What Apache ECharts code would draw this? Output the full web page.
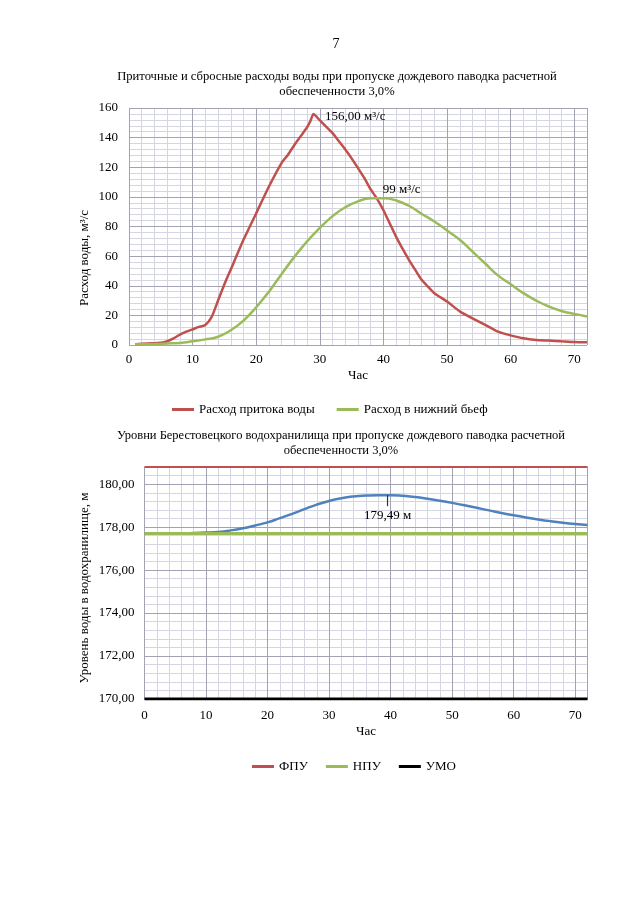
<!DOCTYPE html>
<html>
<head>
<meta charset="utf-8">
<script src="https://cdn.jsdelivr.net/npm/echarts@6/dist/echarts.min.js"></script>
<style>
html,body{margin:0;padding:0;background:#fff;}
#c{width:640px;height:905px;}
</style>
</head>
<body>
<div id="c"></div>
<script>
// ---- Data ----
const inflowHours = [1,3,5,6,7,8,9,10,11,12,13,14,15,16,18,20,22,24,25,26,27,28,28.5,29,30,32,33,34,35,36,37,38,39,40,41,42,43,44,45,46,47,48,50,52,54,56,58,60,62,64,66,68,70,72];
const inflowValues = [0.5,1,1.5,2.5,4.5,7,9,10.6,12.2,13.5,19,30,41,51,71,89,107,123,128.5,135,141,147,151,156,151.6,143,137.5,132,126,119.4,112.7,105,98.7,91,82,73,65,57.5,50.7,44,39.4,35,29.3,22.7,18,13.6,9,6.5,4.5,3.4,3,2.5,2,1.8];
const outflowHours = [1,4,6,8,10,12,14,16,18,20,22,24,26,28,30,32,34,36,38,40,42,44,46,48,50,52,54,56,58,60,62,64,66,68,70,72];
const outflowValues = [0.5,0.7,1,1.4,2.5,3.8,5.6,10,16.5,25.5,36,48,59.5,70,79,87,93,97,99,99,97.6,94,88.6,83.4,77.3,71,63,55,47,41,35,30,26,23,21,19.3];
const levelHours = [0,5,10,12,14,16,18,20,22,24,26,28,30,32,34,36,38,40,42,44,46,48,50,52,54,56,58,60,62,64,66,68,70,72];
const levelValues = [177.7,177.7,177.75,177.78,177.85,177.95,178.08,178.22,178.42,178.62,178.84,179.05,179.22,179.35,179.43,179.47,179.49,179.49,179.46,179.4,179.32,179.23,179.13,179.02,178.9,178.78,178.66,178.55,178.45,178.36,178.28,178.21,178.15,178.1];
const FPU = 180.8, NPU = 177.7, UMO = 170.0;
const levelSpan = [0, 72];
const seriesNamesTop = ['Расход притока воды', 'Расход в нижний бьеф'];
const seriesNamesBottom = ['ФПУ', 'НПУ', 'УМО'];

const zip = (xs, ys) => xs.map((x, i) => [x, ys[i]]);
const flat = v => levelSpan.map(x => [x, v]);

const FONT = 'Liberation Serif';
const MAJOR = '#a3a3b3';
const MINOR = '#d6d6e2';
const txt = {fontFamily: FONT, fontSize: 13, color: '#000'};

function xMajor(grid, gap, margin) {
  return {gridIndex: grid, type: 'value', min: 0, max: 72, interval: 10, z: 2,
    axisLine: {show: false}, axisTick: {show: false},
    axisLabel: Object.assign({margin: margin, showMaxLabel: false}, txt),
    splitLine: {show: true, lineStyle: {color: MAJOR, width: 1}},
    name: 'Час', nameLocation: 'middle', nameGap: gap, nameTextStyle: txt};
}
function xMinor(grid) {
  return {gridIndex: grid, type: 'value', min: 0, max: 72, interval: 2, z: 1, position: 'bottom',
    axisLine: {show: false}, axisTick: {show: false}, axisLabel: {show: false},
    splitLine: {show: true, lineStyle: {color: MINOR, width: 1}}};
}
function vText(text, x, y) {
  return {type: 'text', x: x, y: y, rotation: Math.PI / 2, z: 10,
    style: {text: text, fill: '#000', font: '13px "Liberation Serif"',
      align: 'center', verticalAlign: 'middle', textAlign: 'center', textVerticalAlign: 'middle'}};
}

const chart = echarts.init(document.getElementById('c'), null, {renderer: 'canvas'});
chart.setOption({
  backgroundColor: '#fff',
  animation: false,
  title: [
    {text: '7', left: 331, top: 32, textAlign: 'center', textStyle: {fontFamily: FONT, fontSize: 14, fontWeight: 'normal', color: '#000'}},
    {text: 'Приточные и сбросные расходы воды при пропуске дождевого паводка расчетной\nобеспеченности 3,0%',
      left: 332, top: 64, textAlign: 'center', textStyle: {fontFamily: FONT, fontSize: 12.6, fontWeight: 'normal', color: '#000', lineHeight: 15}},
    {text: 'Уровни Берестовецкого водохранилища при пропуске дождевого паводка расчетной\nобеспеченности 3,0%',
      left: 336, top: 423, textAlign: 'center', textStyle: {fontFamily: FONT, fontSize: 12.5, fontWeight: 'normal', color: '#000', lineHeight: 15}}
  ],
  graphic: [
    vText('Расход воды, м³/с', 85, 258),
    vText('Уровень воды в водохранилище, м', 85, 588)
  ],
  legend: [
    {data: seriesNamesTop, left: 167, top: 398, icon: 'rect', itemWidth: 22, itemHeight: 3, itemGap: 22, textStyle: txt},
    {data: seriesNamesBottom, left: 247, top: 755, icon: 'rect', itemWidth: 22, itemHeight: 3, itemGap: 18, textStyle: txt}
  ],
  grid: [
    {left: 129, top: 108, width: 458, height: 237, containLabel: false},
    {left: 144.5, top: 467, width: 443, height: 232, containLabel: false}
  ],
  xAxis: [xMajor(0, 24, 8), xMinor(0), xMajor(1, 26, 10), xMinor(1)],
  yAxis: [
    {gridIndex: 0, type: 'value', min: 0, max: 160, interval: 20, z: 2,
      axisLine: {show: false}, axisTick: {show: false},
      axisLabel: Object.assign({margin: 11}, txt),
      splitLine: {show: true, lineStyle: {color: MAJOR}}},
    {gridIndex: 0, type: 'value', min: 0, max: 160, interval: 4, z: 1,
      axisLine: {show: false}, axisTick: {show: false}, axisLabel: {show: false},
      splitLine: {show: true, lineStyle: {color: MINOR}}},
    {gridIndex: 1, type: 'value', min: 170, max: FPU, interval: 2, z: 2,
      axisLine: {show: false}, axisTick: {show: false},
      axisLabel: Object.assign({margin: 10, showMaxLabel: false, formatter: v => v.toFixed(2).replace('.', ',')}, txt),
      splitLine: {show: true, lineStyle: {color: MAJOR}}},
    {gridIndex: 1, type: 'value', min: 170, max: FPU, interval: 0.4, z: 1,
      axisLine: {show: false}, axisTick: {show: false}, axisLabel: {show: false},
      splitLine: {show: true, lineStyle: {color: MINOR}}}
  ],
  series: [
    {name: seriesNamesTop[0], type: 'line', xAxisIndex: 0, yAxisIndex: 0, data: zip(inflowHours, inflowValues),
      smooth: 0.2, showSymbol: false, color: '#c0504d', lineStyle: {width: 2.5, color: '#c0504d'}, z: 3,
      markPoint: {symbol: 'circle', symbolSize: 1, itemStyle: {color: 'rgba(0,0,0,0)'},
        data: [{coord: [29, 156], label: {show: true, formatter: '156,00 м³/с', position: 'right', distance: 11, offset: [0, 3], ...txt}}]}},
    {name: seriesNamesTop[1], type: 'line', xAxisIndex: 0, yAxisIndex: 0, data: zip(outflowHours, outflowValues),
      smooth: true, showSymbol: false, color: '#9bbb59', lineStyle: {width: 2.5, color: '#9bbb59'}, z: 3,
      markPoint: {symbol: 'circle', symbolSize: 1, itemStyle: {color: 'rgba(0,0,0,0)'},
        data: [{coord: [39.5, 99], label: {show: true, formatter: '99 м³/с', position: 'right', distance: 2, offset: [0, -9], ...txt}}]}},
    {name: 'Уровень', type: 'line', xAxisIndex: 2, yAxisIndex: 2, data: zip(levelHours, levelValues),
      smooth: true, showSymbol: false, color: '#4f81bd', lineStyle: {width: 2.5, color: '#4f81bd'}, z: 3,
      markPoint: {symbol: 'rect', symbolSize: [1.2, 11], symbolOffset: [0, '50%'], itemStyle: {color: '#333'},
        data: [{coord: [39.5, 179.49], label: {show: true, formatter: '179,49 м', position: 'bottom', distance: 3, ...txt}}]}},
    {name: seriesNamesBottom[0], type: 'line', xAxisIndex: 2, yAxisIndex: 2, data: flat(FPU),
      showSymbol: false, color: '#c0504d', lineStyle: {width: 2, color: '#c0504d'}, z: 4},
    {name: seriesNamesBottom[1], type: 'line', xAxisIndex: 2, yAxisIndex: 2, data: flat(NPU),
      showSymbol: false, color: '#9bbb59', lineStyle: {width: 3, color: '#9bbb59'}, z: 4},
    {name: seriesNamesBottom[2], type: 'line', xAxisIndex: 2, yAxisIndex: 2, data: flat(UMO),
      showSymbol: false, color: '#000', lineStyle: {width: 3, color: '#000'}, z: 4}
  ]
});
</script>
</body>
</html>
